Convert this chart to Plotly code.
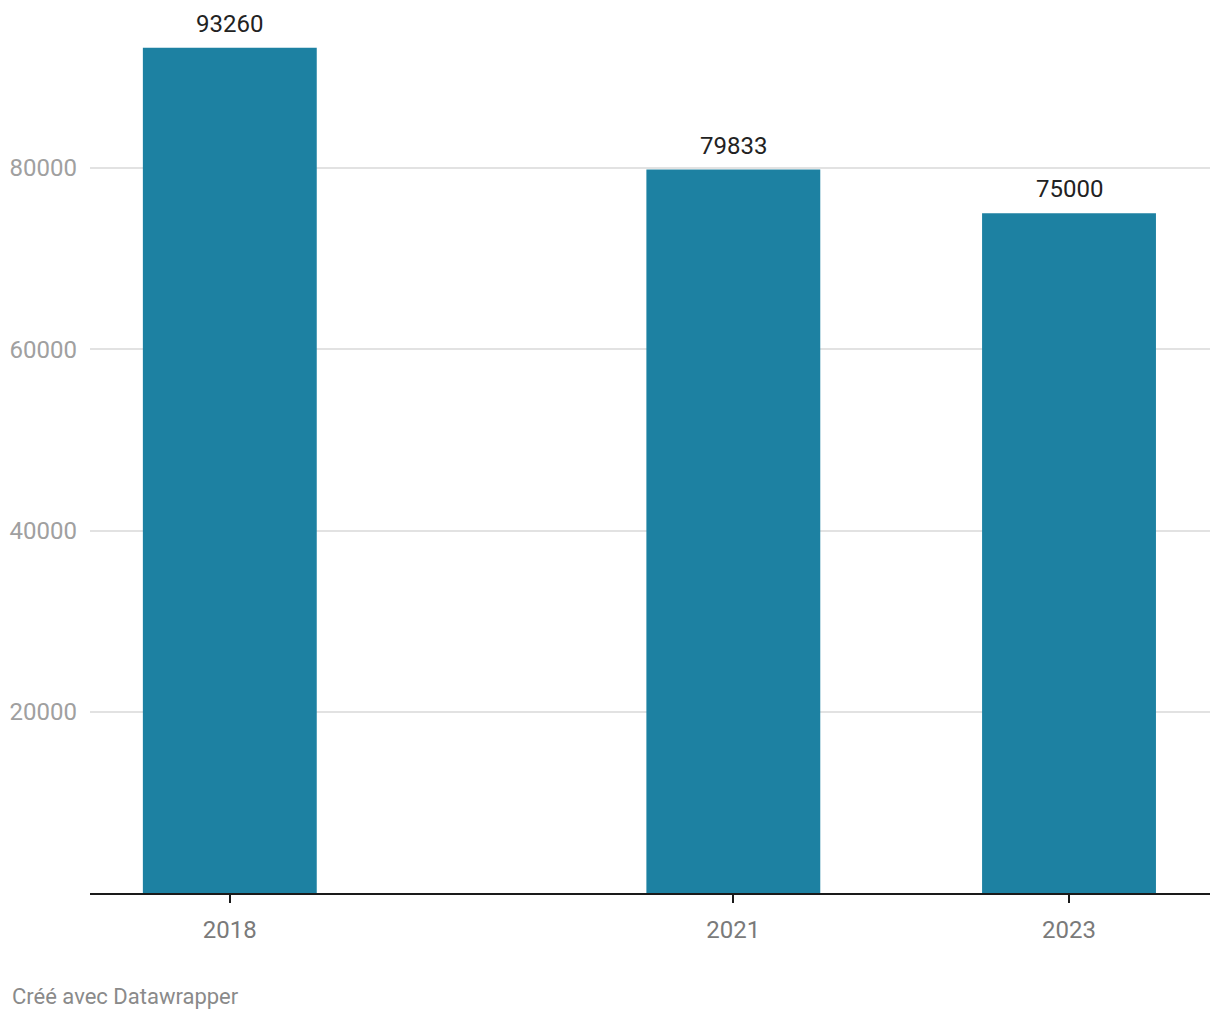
import plotly.graph_objects as go

years = [2018, 2021, 2023]
values = [93260, 79833, 75000]
y_ticks = [20000, 40000, 60000, 80000]
y_tick_labels = ["20000", "40000", "60000", "80000"]
footer = "Créé avec Datawrapper"

fig = go.Figure()
fig.add_trace(go.Bar(
    x=years, y=values, width=1.036,
    marker=dict(color="#1d81a2", line=dict(width=0)),
    cliponaxis=False,
))

annotations = [dict(
    x=x, y=v, xref="x", yref="y", text=str(v), showarrow=False,
    yanchor="middle", yshift=24,
    font=dict(family="Roboto", size=24, color="#222222"),
) for x, v in zip(years, values)]

annotations.append(dict(
    text=footer, xref="paper", yref="paper",
    x=-80/1120, y=-(997-893)/883, xanchor="left", yanchor="middle",
    showarrow=False, font=dict(family="Roboto", size=22, color="#8a8a8a"),
))

fig.update_layout(
    width=1220, height=1020,
    margin=dict(l=90, r=10, t=10, b=127),
    paper_bgcolor="white", plot_bgcolor="white",
    showlegend=False,
    font=dict(family="Roboto"),
    xaxis=dict(
        range=[2017.167, 2023.84],
        tickvals=years, ticktext=[str(y) for y in years],
        showgrid=False, zeroline=False,
        showline=True, linecolor="#1a1a1a", linewidth=2,
        ticks="outside", ticklen=8, tickwidth=2, tickcolor="#1a1a1a",
        ticklabelstandoff=6,
        tickfont=dict(family="Roboto", size=24, color="#7a7a7a"),
    ),
    yaxis=dict(
        range=[0, 97434],
        tickvals=y_ticks, ticktext=y_tick_labels,
        showgrid=True, gridcolor="#e2e2e2", gridwidth=1.5,
        zeroline=False, showline=False, ticks="",
        ticklabelstandoff=12,
        tickfont=dict(family="Roboto", size=24, color="#a0a0a0"),
    ),
    annotations=annotations,
)

fig.write_html("out.html")
